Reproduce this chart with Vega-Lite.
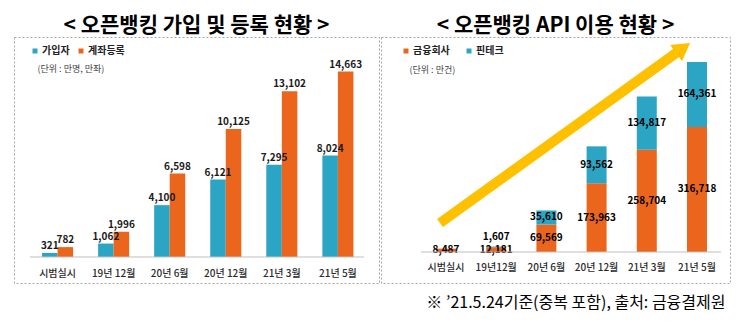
{
  "$schema": "https://vega.github.io/schema/vega-lite/v6.json",
  "padding": {"left": 13, "top": 14, "right": 5, "bottom": 5},
  "config": {
    "font": "Noto Sans CJK KR",
    "view": {"stroke": "#a6a6a6", "strokeDash": [2, 2], "strokeWidth": 1},
    "axis": {"grid": false}
  },
  "title": {"text": "※ ’21.5.24기준(중복 포함), 출처: 금융결제원", "orient": "bottom", "anchor": "end", "fontSize": 16, "fontWeight": "normal", "offset": 11, "dx": -5, "color": "#000"},
  "spacing": 0,
  "resolve": {"scale": {"x": "independent", "y": "independent", "color": "independent"}, "legend": {"color": "independent"}},
  "hconcat": [
    {
      "width": 365,
      "height": 246,
      "title": {"text": "< 오픈뱅킹 가입 및 등록 현황 >", "fontSize": 21, "fontWeight": "bold", "offset": 1, "color": "#000"},
      "data": {"values": [
        {"cat": "시범실시", "type": "가입자", "value": 321},
        {"cat": "시범실시", "type": "계좌등록", "value": 782},
        {"cat": "19년 12월", "type": "가입자", "value": 1062},
        {"cat": "19년 12월", "type": "계좌등록", "value": 1996},
        {"cat": "20년 6월", "type": "가입자", "value": 4100},
        {"cat": "20년 6월", "type": "계좌등록", "value": 6598},
        {"cat": "20년 12월", "type": "가입자", "value": 6121},
        {"cat": "20년 12월", "type": "계좌등록", "value": 10125},
        {"cat": "21년 3월", "type": "가입자", "value": 7295},
        {"cat": "21년 3월", "type": "계좌등록", "value": 13102},
        {"cat": "21년 5월", "type": "가입자", "value": 8024},
        {"cat": "21년 5월", "type": "계좌등록", "value": 14663}
      ]},
      "layer": [
        {
          "mark": {"type": "bar"},
          "encoding": {
            "x": {"field": "cat", "type": "nominal", "scale": {"domain": ["시범실시", "19년 12월", "20년 6월", "20년 12월", "21년 3월", "21년 5월"], "paddingInner": 0.446, "paddingOuter": 0.478, "align": 0.523},
              "axis": {"title": null, "offset": -26, "domain": false, "ticks": false, "labelPadding": 11, "labelFontSize": 10, "labelFontWeight": 500, "labelColor": "#2a2a2a", "labelAngle": 0}},
            "xOffset": {"field": "type", "type": "nominal", "scale": {"domain": ["가입자", "계좌등록"], "paddingInner": 0, "paddingOuter": 0}},
            "y": {"field": "value", "type": "quantitative", "scale": {"domain": [-2057, 17400], "nice": false, "zero": false},
              "axis": {"title": "(단위 : 만명, 만좌)", "labels": false, "ticks": false, "domain": false, "grid": false, "titleAngle": 0, "titleX": 23, "titleY": 31, "titleAlign": "left", "titleBaseline": "middle", "titleFontSize": 9, "titleFontWeight": "normal", "titleColor": "#444"}},
            "color": {"field": "type", "type": "nominal", "scale": {"domain": ["가입자", "계좌등록"], "range": ["#2ca5c4", "#eb661c"]},
              "legend": {"title": null, "orient": "none", "legendX": 16, "legendY": 9, "direction": "horizontal", "symbolType": "square", "symbolSize": 25, "symbolStrokeWidth": 0, "labelFontSize": 10, "labelFontWeight": "bold", "labelColor": "#222", "labelOffset": 2, "columnPadding": 6}}
          }
        },
        {
          "mark": {"type": "text", "baseline": "bottom", "dy": -2, "fontSize": 10, "fontWeight": "bold", "color": "#1a1a1a"},
          "encoding": {
            "x": {"field": "cat", "type": "nominal"},
            "xOffset": {"field": "type", "type": "nominal"},
            "y": {"field": "value", "type": "quantitative"},
            "text": {"field": "value", "type": "quantitative", "format": ","}
          }
        },
        {
          "data": {"values": [{}]},
          "mark": {"type": "rule", "color": "#bfbfbf", "strokeWidth": 1},
          "encoding": {
            "x": {"datum": "시범실시", "type": "nominal", "bandPosition": -0.387},
            "x2": {"datum": "21년 5월", "bandPosition": 1.34},
            "y": {"datum": 0, "type": "quantitative"}
          }
        }
      ]
    },
    {
      "width": 349,
      "height": 246,
      "title": {"text": "< 오픈뱅킹 API 이용 현황 >", "fontSize": 21, "fontWeight": "bold", "offset": 1, "color": "#000"},
      "data": {"values": [
        {"cat": "시범실시", "type": "금융회사", "value": 8487},
        {"cat": "19년12월", "type": "금융회사", "value": 12181},
        {"cat": "19년12월", "type": "핀테크", "value": 1607},
        {"cat": "20년 6월", "type": "금융회사", "value": 69569},
        {"cat": "20년 6월", "type": "핀테크", "value": 35610},
        {"cat": "20년 12월", "type": "금융회사", "value": 173963},
        {"cat": "20년 12월", "type": "핀테크", "value": 93562},
        {"cat": "21년 3월", "type": "금융회사", "value": 258704},
        {"cat": "21년 3월", "type": "핀테크", "value": 134817},
        {"cat": "21년 5월", "type": "금융회사", "value": 316718},
        {"cat": "21년 5월", "type": "핀테크", "value": 164361}
      ]},
      "layer": [
        {
          "mark": {"type": "bar"},
          "encoding": {
            "x": {"field": "cat", "type": "nominal", "scale": {"domain": ["시범실시", "19년12월", "20년 6월", "20년 12월", "21년 3월", "21년 5월"], "paddingInner": 0.602, "paddingOuter": 0.777, "align": 0.705},
              "axis": {"title": null, "offset": -31, "domain": false, "ticks": false, "labelPadding": 10, "labelFontSize": 10, "labelFontWeight": 500, "labelColor": "#2a2a2a", "labelAngle": 0}},
            "y": {"field": "value", "type": "quantitative", "stack": "zero", "scale": {"domain": [-78500, 544400], "nice": false, "zero": false},
              "axis": {"title": "(단위 : 만건)", "labels": false, "ticks": false, "domain": false, "grid": false, "titleAngle": 0, "titleX": 28, "titleY": 32, "titleAlign": "left", "titleBaseline": "middle", "titleFontSize": 9, "titleFontWeight": "normal", "titleColor": "#444"}},
            "color": {"field": "type", "type": "nominal", "scale": {"domain": ["금융회사", "핀테크"], "range": ["#eb661c", "#2ca5c4"]},
              "legend": {"title": null, "orient": "none", "legendX": 20, "legendY": 9, "direction": "horizontal", "symbolType": "square", "symbolSize": 25, "symbolStrokeWidth": 0, "labelFontSize": 10, "labelFontWeight": "bold", "labelColor": "#222", "labelOffset": 2, "columnPadding": 14}},
            "order": {"field": "type", "type": "nominal", "sort": "ascending"}
          }
        },
        {
          "transform": [{"filter": "datum.type == '금융회사' || datum.value >= 20000"}],
          "mark": {"type": "text", "baseline": "middle", "fontSize": 10, "fontWeight": "bold", "color": "#000"},
          "encoding": {
            "x": {"field": "cat", "type": "nominal"},
            "y": {"field": "value", "type": "quantitative", "stack": "zero", "bandPosition": 0.5},
            "detail": {"field": "type", "type": "nominal"},
            "order": {"field": "type", "type": "nominal", "sort": "ascending"},
            "text": {"field": "value", "type": "quantitative", "format": ","}
          }
        },
        {
          "transform": [
            {"stack": "value", "groupby": ["cat"], "sort": [{"field": "type"}], "as": ["v0", "v1"]},
            {"filter": "datum.type == '핀테크' && datum.value < 20000"}
          ],
          "mark": {"type": "text", "baseline": "bottom", "dy": -5, "fontSize": 10, "fontWeight": "bold", "color": "#000"},
          "encoding": {
            "x": {"field": "cat", "type": "nominal"},
            "y": {"field": "v1", "type": "quantitative"},
            "text": {"field": "value", "type": "quantitative", "format": ","}
          }
        },
        {
          "data": {"values": [{}]},
          "mark": {"type": "rule", "color": "#bfbfbf", "strokeWidth": 1},
          "encoding": {
            "x": {"datum": "시범실시", "type": "nominal", "bandPosition": -0.75},
            "x2": {"datum": "21년 5월", "bandPosition": 1.7},
            "y": {"datum": 0, "type": "quantitative"}
          }
        },
        {
          "data": {"values": [{"from": "시범실시", "to": "21년 5월", "v1": 73400, "v2": 507400}]},
          "mark": {"type": "rule", "color": "#ffc000", "strokeWidth": 10, "strokeCap": "butt"},
          "encoding": {
            "x": {"field": "from", "type": "nominal", "bandPosition": 0.2},
            "x2": {"field": "to", "bandPosition": -0.45},
            "y": {"field": "v1", "type": "quantitative"},
            "y2": {"field": "v2"}
          }
        },
        {
          "data": {"values": [{"cat": "21년 5월", "v": 516500}]},
          "mark": {"type": "point", "shape": "triangle-up", "filled": true, "opacity": 1, "size": 400, "angle": 54, "color": "#ffc000", "strokeWidth": 0},
          "encoding": {
            "x": {"field": "cat", "type": "nominal", "bandPosition": -0.195},
            "y": {"field": "v", "type": "quantitative"}
          }
        }
      ]
    }
  ]
}
